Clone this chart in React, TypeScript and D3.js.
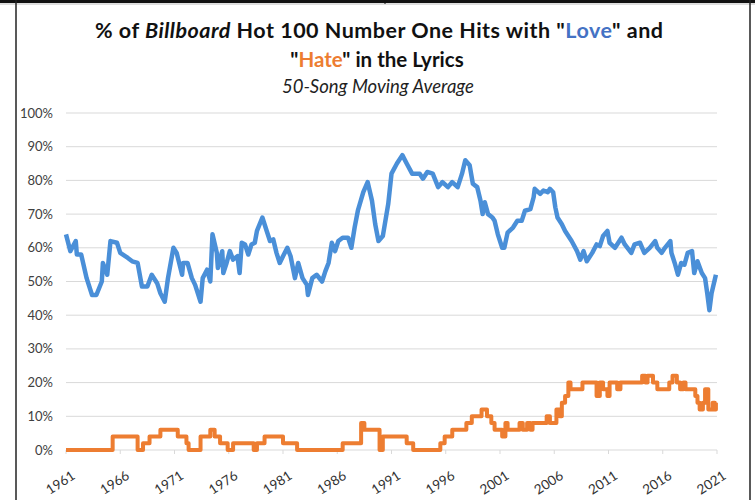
import React from 'react';
import * as d3 from 'd3';

// 50-song moving average: [year, percent]
const loveSeries: [number, number][] = [
  [1961.0, 64], [1961.4, 59], [1961.9, 62], [1962.0, 58], [1962.4, 58], [1962.9, 51],
  [1963.4, 46], [1963.8, 46], [1964.3, 50], [1964.4, 55.5], [1964.8, 52], [1965.1, 62],
  [1965.7, 61.5], [1966.0, 58.5], [1966.7, 57], [1967.1, 56], [1967.6, 55.5], [1968.0, 48.5],
  [1968.5, 48.5], [1968.9, 52], [1969.4, 49.5], [1969.7, 46.5], [1970.1, 44], [1970.4, 51],
  [1970.9, 60], [1971.2, 58.5], [1971.7, 52], [1971.8, 55.5], [1972.2, 55.5], [1972.6, 51],
  [1972.9, 49], [1973.4, 44], [1973.6, 51], [1974.0, 53.5], [1974.3, 50], [1974.5, 64],
  [1974.9, 58.5], [1975.0, 54], [1975.4, 59], [1975.5, 52.5], [1975.8, 55.5], [1976.1, 59],
  [1976.4, 56.5], [1976.8, 57.5], [1977.0, 52.5], [1977.2, 61.5], [1977.5, 61], [1977.8, 58],
  [1978.1, 61], [1978.4, 61.5], [1978.6, 65], [1979.1, 69], [1979.5, 65], [1979.8, 62],
  [1980.1, 62.5], [1980.4, 58.5], [1980.7, 55.5], [1981.0, 57.5], [1981.4, 60], [1981.7, 57.5],
  [1982.1, 51], [1982.4, 55.5], [1982.8, 51], [1983.2, 49], [1983.3, 46], [1983.7, 51],
  [1984.1, 52], [1984.6, 50], [1984.9, 53], [1985.2, 55.5], [1985.5, 61.5], [1985.8, 59],
  [1986.1, 62], [1986.5, 63], [1987.0, 63], [1987.3, 60], [1987.6, 66], [1987.9, 71],
  [1988.4, 76.5], [1988.8, 79.5], [1989.2, 74], [1989.5, 67], [1989.8, 62], [1990.2, 63.5],
  [1990.7, 73], [1991.0, 82], [1991.5, 85], [1992.0, 87.5], [1992.4, 85], [1992.9, 82],
  [1993.6, 82], [1993.9, 80.5], [1994.3, 82.5], [1994.8, 82], [1995.3, 78], [1995.7, 79.5],
  [1996.2, 78], [1996.6, 79.5], [1997.1, 78], [1997.5, 82], [1997.8, 86], [1998.2, 84.5],
  [1998.5, 79], [1998.9, 78], [1999.2, 74], [1999.4, 70], [1999.6, 73.5], [1999.9, 70],
  [2000.3, 69], [2000.5, 68], [2000.8, 64], [2001.2, 60], [2001.4, 60], [2001.7, 64.5],
  [2002.2, 66], [2002.6, 68], [2003.0, 68], [2003.3, 71], [2003.8, 71.5], [2004.1, 75],
  [2004.2, 77.5], [2004.7, 76], [2005.0, 77], [2005.4, 76.5], [2005.6, 77.5], [2005.9, 76.5],
  [2006.1, 72], [2006.3, 69], [2006.7, 67], [2007.0, 65], [2007.3, 63.5], [2007.6, 62],
  [2008.1, 59], [2008.4, 56.5], [2008.7, 59], [2009.0, 56], [2009.5, 58.5], [2009.9, 61],
  [2010.2, 60.5], [2010.5, 63.5], [2010.9, 65], [2011.1, 61.5], [2011.6, 60], [2011.9, 61.5],
  [2012.2, 63], [2012.5, 61], [2013.1, 58.5], [2013.4, 61], [2013.9, 61.5], [2014.3, 58.5],
  [2014.8, 60], [2015.3, 62], [2015.5, 60], [2015.9, 58.5], [2016.2, 60], [2016.7, 62],
  [2016.8, 58.5], [2017.1, 55.5], [2017.4, 52], [2017.7, 55.5], [2018.0, 55], [2018.3, 58.5],
  [2018.7, 59], [2018.9, 52.5], [2019.2, 56], [2019.6, 52.5], [2019.9, 51], [2020.1, 46.5],
  [2020.3, 41.5], [2020.5, 46.5], [2020.9, 52],
];

const hateSeries: [number, number][] = [
  [1961.0, 0], [1965.3, 4], [1967.6, 0], [1968.1, 2], [1968.7, 4], [1969.7, 6], [1971.3, 4],
  [1972.1, 2], [1972.3, 0], [1973.4, 4], [1974.3, 6], [1974.7, 4], [1975.2, 2], [1975.9, 0],
  [1976.4, 2], [1978.3, 0], [1978.6, 2], [1979.3, 4], [1981.0, 2], [1982.3, 0], [1986.5, 2],
  [1988.2, 8], [1988.5, 6], [1989.9, 0], [1990.2, 4], [1992.4, 2], [1993.0, 0], [1995.5, 2],
  [1995.9, 4], [1996.6, 6], [1997.9, 8], [1998.4, 10], [1999.3, 12], [1999.8, 10], [2000.2, 8],
  [2000.5, 6], [2001.2, 4], [2001.5, 8], [2001.7, 6], [2002.8, 8], [2003.1, 6], [2003.5, 8],
  [2003.8, 6], [2004.0, 8], [2005.3, 10], [2005.6, 8], [2006.2, 12], [2006.5, 10], [2006.7, 14],
  [2007.0, 16], [2007.3, 20], [2007.5, 18], [2008.6, 20], [2009.9, 16], [2010.2, 20],
  [2010.5, 18], [2010.9, 16], [2011.1, 20], [2011.8, 18], [2012.1, 20], [2014.1, 22],
  [2014.4, 20], [2014.6, 22], [2015.1, 20], [2015.5, 18], [2016.6, 20], [2016.9, 22],
  [2017.3, 20], [2017.6, 18], [2017.9, 20], [2018.1, 18], [2019.0, 16], [2019.2, 14],
  [2019.4, 12], [2019.7, 14], [2019.9, 18], [2020.2, 12], [2020.6, 14], [2020.8, 12], [2020.9, 14],
];

const yearTicks = d3.range(1961, 2022, 5);
const pctTicks = d3.range(0, 101, 10);

const W = 755;
const H = 500;
const FONT = 'Lato, "Open Sans", sans-serif';
const BLUE = '#4a8fd8';
const ORANGE = '#ed7d31';

export default function App() {
  const x = d3.scaleLinear().domain([1961, 2021]).range([66, 717]);
  const y = d3.scaleLinear().domain([0, 100]).range([450, 113]);

  const loveLine = d3.line<[number, number]>()
    .x(d => x(d[0]))
    .y(d => y(d[1]));

  const hateLine = d3.line<[number, number]>()
    .x(d => x(d[0]))
    .y(d => y(d[1]))
    .curve(d3.curveStepAfter);

  return (
    <div style={{ position: 'fixed', left: 0, top: 0 }}>
      <svg width={W} height={H} style={{ display: 'block', background: '#fff' }}>
        {/* frame */}
        <line x1={0} x2={W} y1={1.5} y2={1.5} stroke="#111" strokeWidth={3} />
        <line x1={0} x2={W} y1={4} y2={4} stroke="#bbb" strokeWidth={1} />
        <line x1={385} x2={385} y1={0} y2={4} stroke="#111" strokeWidth={1} />
        <line x1={16} x2={16} y1={0} y2={H} stroke="#222" strokeWidth={1.5} />
        <line x1={750} x2={750} y1={0} y2={H} stroke="#222" strokeWidth={1.5} />

        {/* title */}
        <text x={379} y={38} textAnchor="middle" fontFamily={FONT} fontWeight={700} fontSize={21.5}
          fill="#111" textLength={568} lengthAdjust="spacing">
          <tspan>% of </tspan>
          <tspan fontStyle="italic">Billboard</tspan>
          <tspan> Hot 100 Number One Hits with "</tspan>
          <tspan fill="#4472c4">Love</tspan>
          <tspan>" and</tspan>
        </text>
        <text x={377} y={67} textAnchor="middle" fontFamily={FONT} fontWeight={700} fontSize={20.5} fill="#111">
          <tspan>"</tspan>
          <tspan fill={ORANGE}>Hate</tspan>
          <tspan>" in the Lyrics</tspan>
        </text>
        <text x={378} y={93} textAnchor="middle" fontFamily={FONT} fontStyle="italic" fontSize={18.5} fill="#1f1f1f">
          50-Song Moving Average
        </text>

        {/* gridlines + y labels */}
        {pctTicks.map(t => (
          <g key={t}>
            <line x1={x(1961)} x2={x(2021)} y1={y(t)} y2={y(t)} stroke="#d9d9d9" strokeWidth={1} />
            <text x={53} y={y(t)} dy="0.35em" textAnchor="end" fontFamily={FONT} fontSize={13} fill="#404040">
              {`${t}%`}
            </text>
          </g>
        ))}

        {/* x ticks + labels */}
        {yearTicks.map(t => (
          <g key={t}>
            <line x1={x(t)} x2={x(t)} y1={y(0)} y2={y(0) + 4} stroke="#d9d9d9" strokeWidth={1} />
            <text
              transform={`translate(${x(t) + 5},${y(0) + 20}) rotate(-33)`}
              textAnchor="end"
              dy="0.7em"
              fontFamily={FONT}
              fontSize={13.5}
              fill="#333"
            >
              {t}
            </text>
          </g>
        ))}

        {/* series */}
        <path d={hateLine(hateSeries) ?? ''} fill="none" stroke={ORANGE} strokeWidth={4} strokeLinejoin="round" />
        <path d={loveLine(loveSeries) ?? ''} fill="none" stroke={BLUE} strokeWidth={4.5} strokeLinejoin="round" />
      </svg>
    </div>
  );
}
